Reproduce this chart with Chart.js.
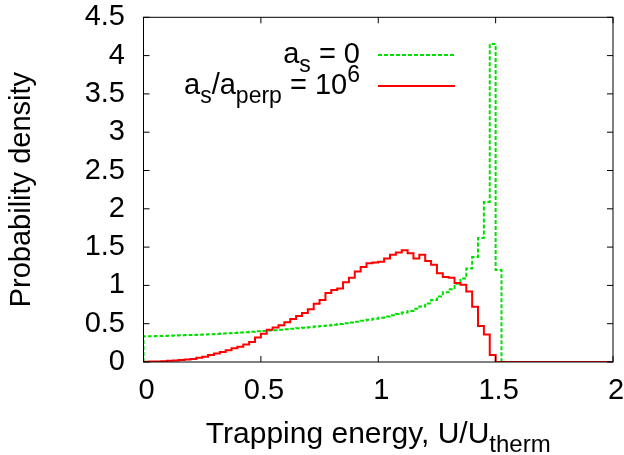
<!DOCTYPE html>
<html><head><meta charset="utf-8">
<script src="https://cdn.jsdelivr.net/npm/chart.js@4/dist/chart.umd.min.js"></script>
<style>html,body{margin:0;padding:0;background:#fff}</style>
</head><body><canvas id="c" width="624" height="455"></canvas>
<script>
// ---- data ----
const binStart = 0, binWidth = 0.025;
const greenDensity = [
 0.335,0.337,0.339,0.341,0.343,0.346,0.348,0.351,0.354,0.357,
 0.360,0.363,0.367,0.371,0.375,0.379,0.384,0.389,0.394,0.400,
 0.405,0.410,0.416,0.422,0.428,0.434,0.441,0.448,0.455,0.462,
 0.470,0.478,0.487,0.496,0.506,0.516,0.527,0.539,0.551,0.564,
 0.578,0.593,0.609,0.626,0.645,0.667,0.695,0.725,0.765,0.810,
 0.855,0.91,0.95,1.02,1.09,1.22,1.37,1.62,2.09,4.15,
 1.20,0,0,0,0,0,0,0,0,0,
 0,0,0,0,0,0,0,0,0,0];
const redDensity = [
 0.003,0.005,0.008,0.011,0.015,0.02,0.025,0.032,0.04,0.055,
 0.07,0.09,0.11,0.13,0.155,0.18,0.20,0.23,0.26,0.32,
 0.37,0.42,0.45,0.48,0.52,0.56,0.60,0.64,0.69,0.76,
 0.81,0.90,0.94,0.96,1.04,1.10,1.18,1.24,1.29,1.30,
 1.31,1.35,1.40,1.43,1.46,1.42,1.35,1.40,1.32,1.27,
 1.16,1.11,1.10,1.03,1.01,0.92,0.72,0.47,0.36,0.09,
 0,0,0,0,0,0,0,0,0,0,
 0,0,0,0,0,0,0,0,0,0];
const seriesLabels = ['a_s = 0', 'a_s/a_{perp} = 10^6'];
const xTicks = [0, 0.5, 1, 1.5, 2];
const xTickLabels = ['0', '0.5', '1', '1.5', '2'];
const yTicks = [0, 0.5, 1, 1.5, 2, 2.5, 3, 3.5, 4, 4.5];
const yTickLabels = ['0', '0.5', '1', '1.5', '2', '2.5', '3', '3.5', '4', '4.5'];
const xTitle = 'Trapping energy, U/U_{therm}';
const yTitle = 'Probability density';

// ---- helpers ----
const FONT = '"Liberation Sans", Arial, Helvetica, sans-serif';
const FS = 29;
function toSteps(vals) {
  const pts = [{x: binStart, y: 0}];
  vals.forEach((v, i) => pts.push({x: binStart + i * binWidth, y: v}));
  pts.push({x: binStart + vals.length * binWidth, y: vals[vals.length - 1]});
  return pts;
}
function parseRich(s) {
  const segs = []; let i = 0, buf = '';
  while (i < s.length) {
    const c = s[i];
    if (c === '_' || c === '^') {
      if (buf) { segs.push({t: buf, m: 0}); buf = ''; }
      let t = ''; i++;
      if (s[i] === '{') { i++; while (i < s.length && s[i] !== '}') { t += s[i]; i++; } i++; }
      else { t = s[i]; i++; }
      segs.push({t, m: c === '_' ? 1 : -1});
    } else { buf += c; i++; }
  }
  if (buf) segs.push({t: buf, m: 0});
  return segs;
}
function segFont(m, F) { return (m ? Math.round(F * 0.8) : F) + 'px ' + FONT; }
function richWidth(ctx, segs, F) {
  let w = 0;
  for (const s of segs) { ctx.font = segFont(s.m, F); w += ctx.measureText(s.t).width; }
  return w;
}
function drawRich(ctx, segs, x, y, F) {
  ctx.textAlign = 'left'; ctx.textBaseline = 'alphabetic';
  for (const s of segs) {
    ctx.font = segFont(s.m, F);
    const dy = s.m === 1 ? F * 0.3 : (s.m === -1 ? -F * 0.4 : 0);
    ctx.fillText(s.t, x, y + dy);
    x += ctx.measureText(s.t).width;
  }
}

const decor = {
  id: 'decor',
  afterDraw(chart) {
    const ctx = chart.ctx, a = chart.chartArea;
    const xs = chart.scales.x, ys = chart.scales.y;
    ctx.save();
    ctx.strokeStyle = '#000'; ctx.lineWidth = 1; ctx.setLineDash([]);
    ctx.strokeRect(a.left, a.top, a.right - a.left, a.bottom - a.top);
    const TL = 6;
    ctx.beginPath();
    xTicks.forEach(v => {
      const px = xs.getPixelForValue(v);
      ctx.moveTo(px, a.bottom); ctx.lineTo(px, a.bottom - TL);
      ctx.moveTo(px, a.top); ctx.lineTo(px, a.top + TL);
    });
    yTicks.forEach(v => {
      const py = ys.getPixelForValue(v);
      ctx.moveTo(a.left, py); ctx.lineTo(a.left + TL, py);
      ctx.moveTo(a.right, py); ctx.lineTo(a.right - TL, py);
    });
    ctx.stroke();

    ctx.fillStyle = '#000';
    // x title
    const xs2 = parseRich(xTitle);
    const XF = 30;
    const xw = richWidth(ctx, xs2, XF);
    drawRich(ctx, xs2, (a.left + a.right) / 2 - xw / 2, 443, XF);
    // y title
    ctx.save();
    ctx.translate(30, (a.top + a.bottom) / 2);
    ctx.rotate(-Math.PI / 2);
    const ys2 = parseRich(yTitle);
    const yw = richWidth(ctx, ys2, FS);
    drawRich(ctx, ys2, -yw / 2, 0, FS);
    ctx.restore();

    // legend
    const rows = [55, 86];
    chart.data.datasets.forEach((ds, i) => {
      const ly = rows[i];
      const segs = parseRich(ds.label);
      const w = richWidth(ctx, segs, FS);
      ctx.fillStyle = '#000';
      drawRich(ctx, segs, 360 - w, ly + 8, FS);
      ctx.beginPath();
      ctx.strokeStyle = ds.borderColor; ctx.lineWidth = ds.borderWidth;
      ctx.setLineDash(ds.borderDash || []);
      ctx.moveTo(378, ly); ctx.lineTo(455, ly);
      ctx.stroke();
      ctx.setLineDash([]);
    });
    ctx.restore();
  }
};

new Chart(document.getElementById('c'), {
  type: 'line',
  data: {
    datasets: [
      {label: seriesLabels[0], data: toSteps(greenDensity), borderColor: '#00e000', borderWidth: 2,
       borderDash: [4, 2], stepped: 'before', pointRadius: 0, fill: false, order: 1},
      {label: seriesLabels[1], data: toSteps(redDensity), borderColor: '#ff0000', borderWidth: 2,
       stepped: 'before', pointRadius: 0, fill: false, order: 0}
    ]
  },
  options: {
    responsive: false, animation: false, devicePixelRatio: 1,
    layout: {padding: {top: 17.3, right: 11, bottom: 0, left: 0}},
    plugins: {legend: {display: false}, tooltip: {enabled: false}, title: {display: false}},
    scales: {
      x: {
        type: 'linear', min: 0, max: 2,
        afterBuildTicks: s => { s.ticks = xTicks.map(v => ({value: v})); },
        afterFit: s => { s.height = 93; s.paddingLeft = 0; s.paddingRight = 0; },
        grid: {display: false, drawTicks: false}, border: {display: false},
        ticks: {font: {size: FS, family: FONT}, color: '#000', padding: 12, labelOffset: 3,
                maxRotation: 0, autoSkip: false, callback: (v, i) => xTickLabels[i]}
      },
      y: {
        type: 'linear', min: 0, max: 4.5,
        afterBuildTicks: s => { s.ticks = yTicks.map(v => ({value: v})); },
        afterFit: s => { s.width = 143.5; s.paddingTop = 0; s.paddingBottom = 0; },
        grid: {display: false, drawTicks: false}, border: {display: false},
        ticks: {font: {size: FS, family: FONT}, color: '#000', padding: 18.5, autoSkip: false,
                callback: (v, i) => yTickLabels[i]}
      }
    }
  },
  plugins: [decor]
});
</script>
</body></html>
